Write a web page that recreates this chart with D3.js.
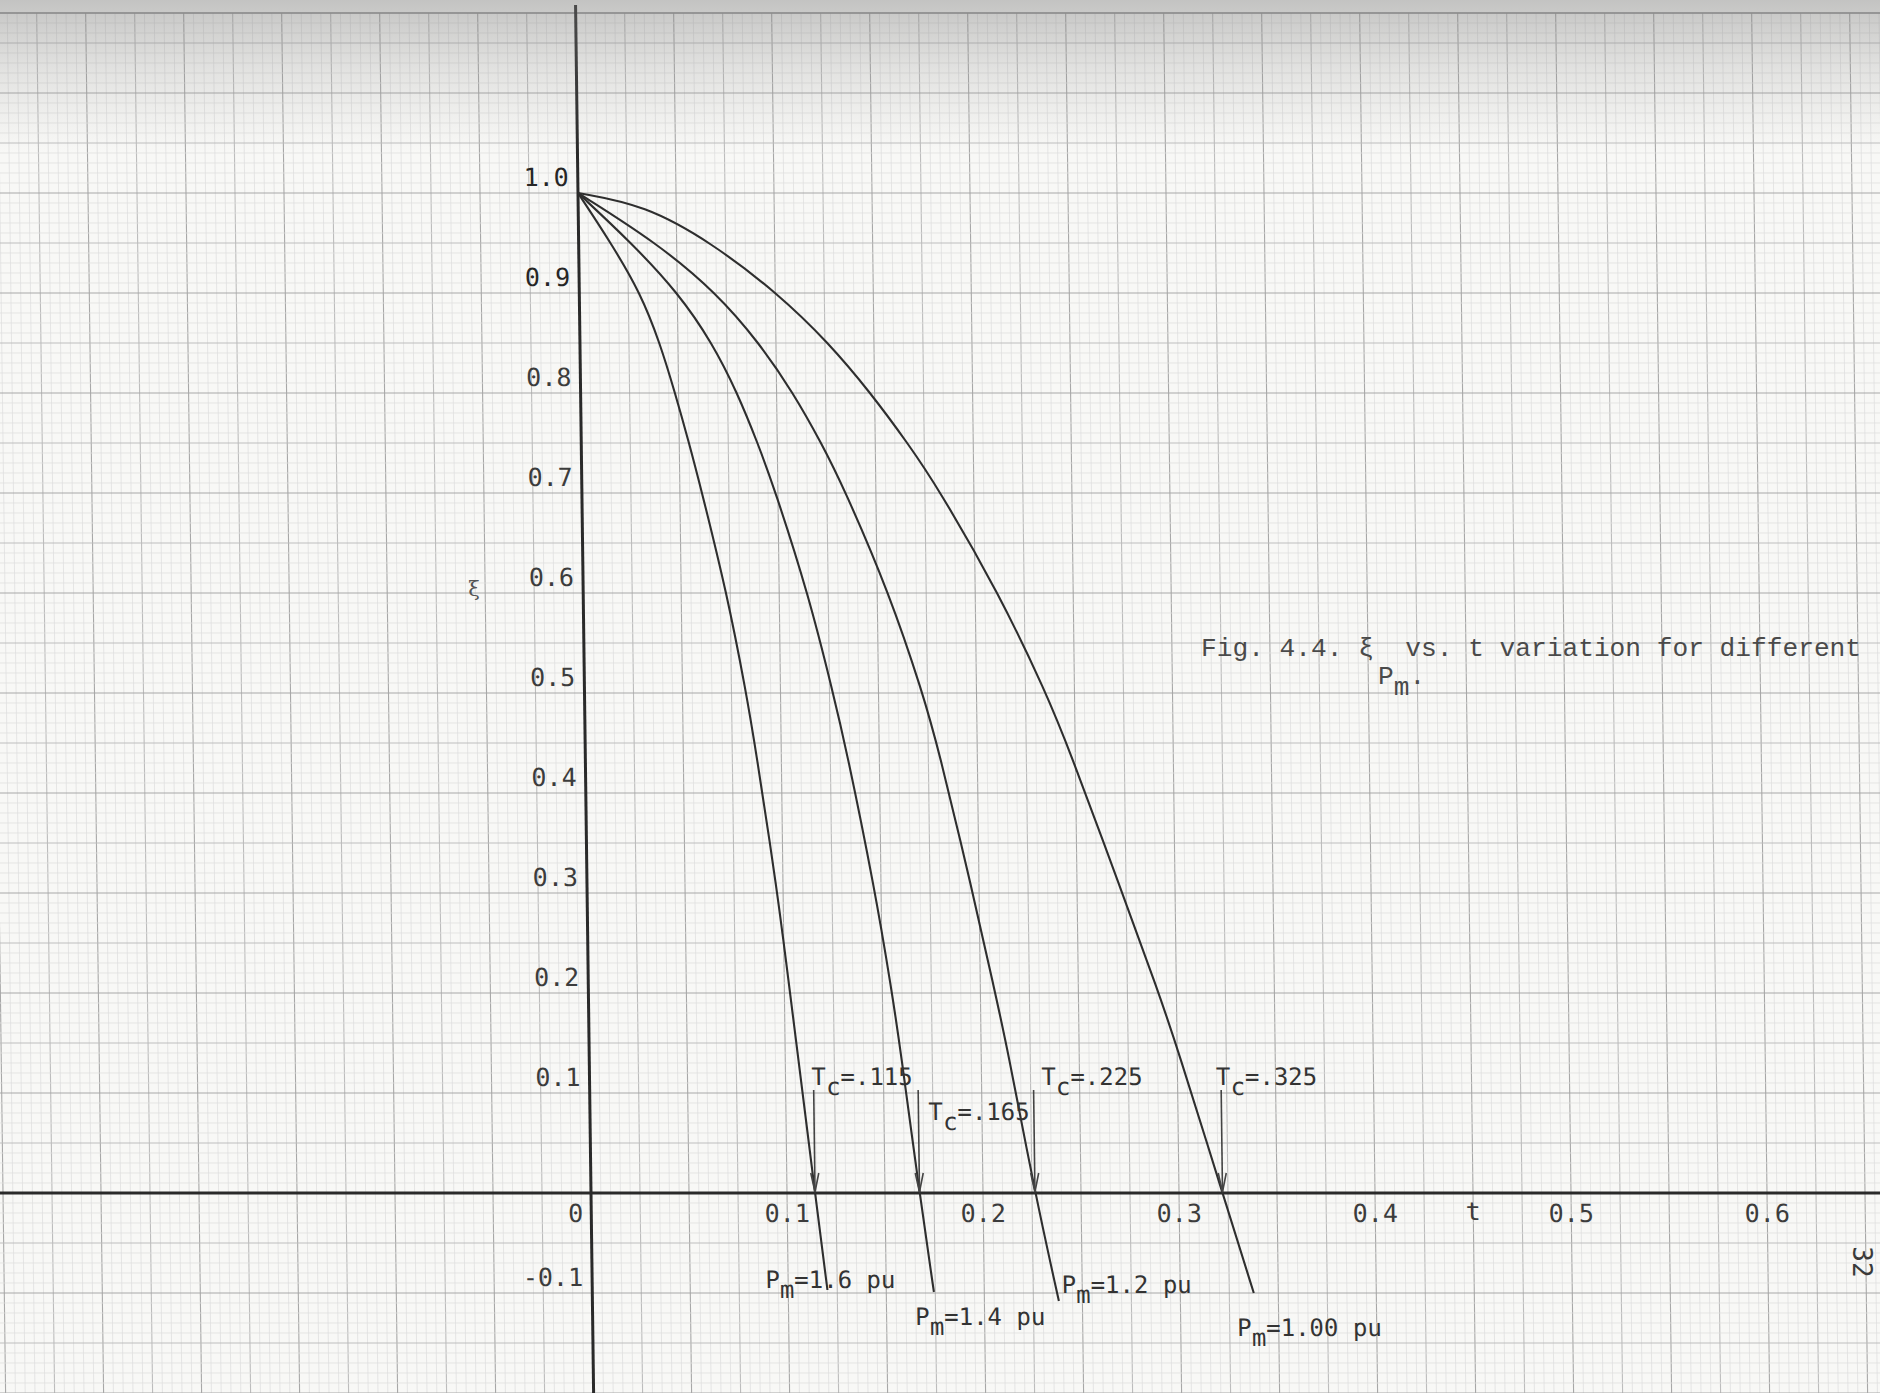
<!DOCTYPE html>
<html>
<head>
<meta charset="utf-8">
<script src="https://cdn.jsdelivr.net/npm/d3@7"></script>
<style>
  html, body { margin: 0; padding: 0; background: #f7f7f5; overflow: hidden; }
  svg { display: block; }
</style>
</head>
<body>
<svg id="chart" width="1880" height="1393"></svg>
<script>
// ─── Data ────────────────────────────────────────────────────────────────────
// each curve: [t, xi]
const CURVE_PM160 = [[0,1],[0.0165,0.95],[0.0312,0.90],[0.0408,0.85],[0.0482,0.80],[0.0550,0.75],[0.0606,0.706],
  [0.0735,0.598],[0.0825,0.50],[0.0868,0.446],[0.0970,0.303],[0.1027,0.203],[0.1060,0.146],[0.1143,0],[0.1200,-0.097]];
const CURVE_PM140 = [[0,1],[0.027,0.95],[0.0505,0.90],[0.0675,0.85],[0.0800,0.80],[0.0900,0.75],[0.0980,0.706],
  [0.1150,0.598],[0.1268,0.50],[0.1330,0.446],[0.1469,0.303],[0.1547,0.203],[0.1587,0.146],[0.1676,0],[0.1743,-0.099]];
const CURVE_PM120 = [[0,1],[0.040,0.95],[0.0700,0.90],[0.0915,0.85],[0.1085,0.80],[0.1225,0.75],[0.1335,0.706],
  [0.1565,0.598],[0.1725,0.50],[0.1800,0.446],[0.1965,0.303],[0.2072,0.203],[0.2133,0.146],[0.2265,0],[0.2380,-0.108]];
const CURVE_PM100 = [[0,1],[0.034,0.988],[0.068,0.95],[0.101,0.90],[0.127,0.85],[0.148,0.80],[0.1665,0.75],[0.1815,0.706],
  [0.2125,0.598],[0.2355,0.50],[0.2465,0.446],[0.2725,0.303],[0.2905,0.203],[0.3000,0.146],[0.3222,0],[0.3375,-0.100]];

const PM_LABELS = ['1.6', '1.4', '1.2', '1.00'];
const TC_VALUES = [0.115, 0.165, 0.225, 0.325];
const X_TICKS   = [0.1, 0.2, 0.3, 0.4, 0.5, 0.6];
const Y_TICKS   = [1.0, 0.9, 0.8, 0.7, 0.6, 0.5, 0.4, 0.3, 0.2, 0.1, -0.1];

// ─── Layout ──────────────────────────────────────────────────────────────────
const W = 1880, H = 1393;
const GRID_TOP = 13;
const TILT = 0.745;                       // scan is slightly rotated
const PM_DX = [-62, -19, 3, -17], PM_DY = [-2, 33, -8, 43];
const TC_DX = [-2, 10, 8, -5],   TC_RISE = [108, 73, 108, 108];
const MONO = "'DejaVu Sans Mono', 'Liberation Mono', monospace";

const x = d3.scaleLinear().domain([0, 0.1]).range([591, 787]);
const y = d3.scaleLinear().domain([0, 1]).range([1193, 193]);
const Y0 = y(0);

const svg = d3.select('#chart');
const defs = svg.append('defs');
const shade = defs.append('linearGradient').attr('id', 'shade')
  .attr('x1', 0).attr('y1', 0).attr('x2', 0).attr('y2', 1);
shade.append('stop').attr('offset', 0).attr('stop-color', '#7a7a7a').attr('stop-opacity', 0.42);
shade.append('stop').attr('offset', 0.05).attr('stop-color', '#8a8a8a').attr('stop-opacity', 0.2);
shade.append('stop').attr('offset', 0.11).attr('stop-color', '#9a9a9a').attr('stop-opacity', 0);

svg.append('rect').attr('width', W).attr('height', H).attr('fill', '#f8f8f6');

const g = svg.append('g')
  .attr('transform', `translate(0,${Y0}) skewX(${TILT}) translate(0,${-Y0})`);

// ── Graph paper ──────────────────────────────────────────────────────────────
const grid = g.append('g').attr('class', 'grid');
const vIdx = d3.range(-64, 137);          // steps of 0.005 in t
const hIdx = d3.range(-21, 119);          // steps of 0.01 in xi
const gridCol = i => i % 10 === 0 ? '#a8a8a8' : i % 5 === 0 ? '#bdbdbd' : '#e0e0e0';

grid.selectAll('.gv').data(vIdx.filter(i => i % 5 !== 0).concat(vIdx.filter(i => i % 5 === 0)))
  .join('line').attr('class', 'gv')
  .attr('x1', i => x(i * 0.005)).attr('x2', i => x(i * 0.005))
  .attr('y1', GRID_TOP).attr('y2', H + 10)
  .attr('stroke', gridCol).attr('stroke-width', i => i % 5 === 0 ? 1.1 : 0.8);

grid.selectAll('.gh').data(hIdx.filter(i => i % 5 !== 0).concat(hIdx.filter(i => i % 5 === 0)))
  .join('line').attr('class', 'gh')
  .attr('x1', -60).attr('x2', W + 60)
  .attr('y1', i => y(i / 100)).attr('y2', i => y(i / 100))
  .attr('stroke', gridCol).attr('stroke-width', i => i % 5 === 0 ? 1.1 : 0.8);

grid.append('line').attr('x1', -60).attr('x2', W + 60)
  .attr('y1', GRID_TOP).attr('y2', GRID_TOP).attr('stroke', '#8c8c8c').attr('stroke-width', 1.4);

// ── Axes ─────────────────────────────────────────────────────────────────────
g.append('line').attr('x1', -60).attr('x2', W + 60).attr('y1', Y0).attr('y2', Y0)
  .attr('stroke', '#2a2a2a').attr('stroke-width', 3);
g.append('line').attr('x1', x(0)).attr('x2', x(0)).attr('y1', 5).attr('y2', H + 10)
  .attr('stroke', '#2a2a2a').attr('stroke-width', 3);

const lbl = g.append('g').attr('font-family', MONO).attr('font-size', 25).attr('fill', '#3c3c3c');
lbl.selectAll('.yl').data(Y_TICKS).join('text').attr('class', 'yl')
  .attr('x', x(0) - 9).attr('y', d => y(d) - 7).attr('text-anchor', 'end')
  .attr('fill', d => d >= 0.9 ? '#262626' : null)
  .text(d => d.toFixed(1));
lbl.selectAll('.xl').data(X_TICKS).join('text').attr('class', 'xl')
  .attr('x', d => x(d)).attr('y', Y0 + 29).attr('text-anchor', 'middle')
  .text(d => d.toFixed(1));
lbl.append('text').attr('x', x(0) - 8).attr('y', Y0 + 29).attr('text-anchor', 'end').text('0');
lbl.append('text').attr('x', x(0.45)).attr('y', Y0 + 27).attr('text-anchor', 'middle').text('t');

// ── Curves ───────────────────────────────────────────────────────────────────
const SERIES = [CURVE_PM160, CURVE_PM140, CURVE_PM120, CURVE_PM100];
const line = d3.line().x(d => x(d[0])).y(d => y(d[1])).curve(d3.curveBasis);

g.append('g').selectAll('path').data(SERIES).join('path')
  .attr('d', line).attr('fill', 'none')
  .attr('stroke', '#2e2e2e').attr('stroke-width', 2.1);

// ── T_c arrows and labels ────────────────────────────────────────────────────
const crossT = SERIES.map(s => s.find(p => p[1] === 0)[0]);
const arrows = g.append('g').attr('stroke', '#444').attr('stroke-width', 1.6).attr('fill', 'none');
crossT.forEach(t => {
  const ax = x(t);
  arrows.append('line').attr('x1', ax).attr('x2', ax).attr('y1', y(0.103)).attr('y2', Y0 - 1);
  arrows.append('polyline').attr('points', `${ax - 4},${Y0 - 20} ${ax},${Y0 - 1} ${ax + 4},${Y0 - 20}`);
});

const tcText = g.append('g').attr('font-family', MONO).attr('font-size', 24).attr('fill', '#333')
  .selectAll('text').data(TC_VALUES).join('text')
  .attr('x', (d, i) => x(crossT[i]) + TC_DX[i]).attr('y', (d, i) => Y0 - TC_RISE[i]);
tcText.append('tspan').text('T');
tcText.append('tspan').attr('dy', 10).text('c');
tcText.append('tspan').attr('dy', -10).text(d => '=' + d3.format('.3f')(d).replace(/^0/, ''));

// ── P_m labels at curve ends ─────────────────────────────────────────────────
const pmText = g.append('g').attr('font-family', MONO).attr('font-size', 24).attr('fill', '#333')
  .selectAll('text').data(PM_LABELS).join('text')
  .attr('x', (d, i) => x(SERIES[i][SERIES[i].length - 1][0]) + PM_DX[i])
  .attr('y', (d, i) => y(SERIES[i][SERIES[i].length - 1][1]) + PM_DY[i]);
pmText.append('tspan').text('P');
pmText.append('tspan').attr('dy', 10).text('m');
pmText.append('tspan').attr('dy', -10).text(d => '=' + d + '\u00a0pu');

// ── Scan shading, caption, page number ───────────────────────────────────────
svg.append('rect').attr('width', W).attr('height', H).attr('fill', 'url(#shade)');

svg.append('text').attr('x', 474).attr('y', 596).attr('text-anchor', 'middle')
  .attr('font-family', "'DejaVu Serif', serif").attr('font-size', 21).attr('fill', '#555')
  .text('ξ');

const cap = svg.append('g').attr('font-family', "'Liberation Mono', 'DejaVu Sans Mono', monospace")
  .attr('font-size', 26.2).attr('fill', '#4a4a4a');
cap.append('text').attr('x', 1201).attr('y', 656)
  .text('Fig. 4.4. ξ\u00a0\u00a0vs. t variation for different');
const cap2 = cap.append('text').attr('x', 1378).attr('y', 684);
cap2.append('tspan').text('P');
cap2.append('tspan').attr('dy', 11).text('m');
cap2.append('tspan').attr('dy', -11).text('.');

svg.append('text').attr('transform', 'translate(1862,1262) rotate(90)')
  .attr('text-anchor', 'middle').attr('dominant-baseline', 'central')
  .attr('font-family', MONO).attr('font-size', 26).attr('fill', '#3a3a3a').text('32');
</script>
</body>
</html>
